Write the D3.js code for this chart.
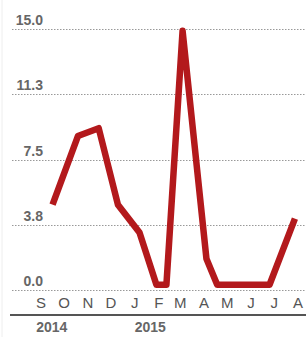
<!DOCTYPE html>
<meta charset="utf-8">
<script src="https://d3js.org/d3.v7.min.js"></script>
<style>
  body { margin: 0; background: #fff; }
  text { font-family: "Liberation Sans", Arial, sans-serif; }
</style>
<svg width="306" height="337"></svg>
<script>
// data
const dates = ["2014-09-16","2014-10-19","2014-11-15","2014-12-10","2015-01-07","2015-01-29",
               "2015-02-11","2015-03-04","2015-04-04","2015-04-18","2015-06-25","2015-07-28"];
const values = [4.9, 8.85, 9.3, 4.9, 3.3, 0.3, 0.3, 14.9, 1.8, 0.3, 0.3, 4.1];
const yTicks = [0, 3.75, 7.5, 11.25, 15];
const yTickLabels = ["0.0", "3.8", "7.5", "11.3", "15.0"];
const monthLabels = ["S","O","N","D","J","F","M","A","M","J","J","A"];
const years = [{label: "2014", date: "2014-09-15"}, {label: "2015", date: "2015-01-21"}];

const parse = d3.timeParse("%Y-%m-%d");
const data = dates.map((d, i) => ({date: parse(d), value: values[i]}));

const svg = d3.select("svg");

const x = d3.scaleTime()
    .domain([parse("2014-09-01"), parse("2015-08-01")])
    .range([41, 298]);
const y = d3.scaleLinear()
    .domain([0, 15])
    .range([290, 29]);

// faint page border on the left
svg.append("line")
    .attr("x1", 2).attr("x2", 2).attr("y1", 0).attr("y2", 337)
    .attr("stroke", "#eee").attr("stroke-width", 1);

// dotted gridlines
svg.append("g")
  .selectAll("line")
  .data(yTicks)
  .join("line")
    .attr("x1", 12).attr("x2", 306)
    .attr("y1", d => Math.round(y(d)) + 0.5)
    .attr("y2", d => Math.round(y(d)) + 0.5)
    .attr("stroke", "#999")
    .attr("stroke-width", 1)
    .attr("stroke-dasharray", "1.5,1.5");

// y labels sit above the gridlines
svg.append("g")
  .selectAll("text")
  .data(yTicks)
  .join("text")
    .attr("x", 43)
    .attr("y", d => y(d) - 4)
    .attr("text-anchor", "end")
    .attr("font-size", 14)
    .attr("font-weight", "bold")
    .attr("fill", "#666")
    .text((d, i) => yTickLabels[i]);

// month axis
const months = d3.timeMonth.range(parse("2014-09-01"), parse("2015-08-02"));
svg.append("g")
  .selectAll("text")
  .data(months)
  .join("text")
    .attr("x", d => x(d))
    .attr("y", 308)
    .attr("text-anchor", "middle")
    .attr("font-size", 15)
    .attr("fill", "#555")
    .text((d, i) => monthLabels[i]);

svg.append("line")
    .attr("x1", 10).attr("x2", 306).attr("y1", 315).attr("y2", 315)
    .attr("stroke", "#555").attr("stroke-width", 2);

svg.append("g")
  .selectAll("text")
  .data(years)
  .join("text")
    .attr("x", d => x(parse(d.date)))
    .attr("y", 332)
    .attr("text-anchor", "middle")
    .attr("font-size", 14)
    .attr("font-weight", "bold")
    .attr("fill", "#666")
    .text(d => d.label);

// the line
const line = d3.line()
    .x(d => x(d.date))
    .y(d => y(d.value));

svg.append("path")
    .datum(data)
    .attr("d", line)
    .attr("fill", "none")
    .attr("stroke", "#b3191c")
    .attr("stroke-width", 6.5)
    .attr("stroke-linejoin", "round");
</script>
